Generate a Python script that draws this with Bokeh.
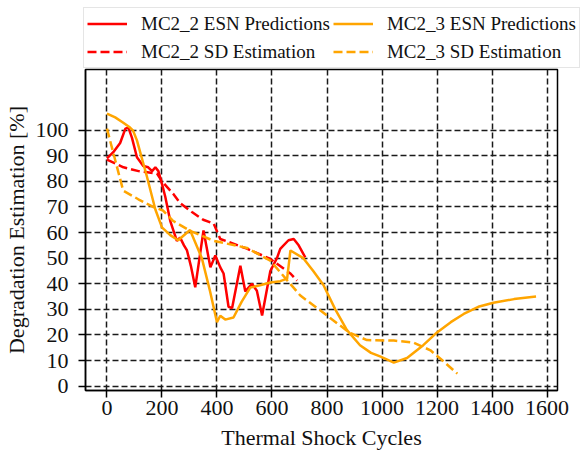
from bokeh.plotting import figure
from bokeh.models import Legend, LegendItem, FixedTicker, Range1d
from bokeh.embed import file_html
from bokeh.resources import INLINE

# MC2_2 ESN Predictions
mc22_esn_x = [0, 23, 48, 67, 78, 91, 109, 132, 150, 164, 176, 187, 200, 212, 230, 242, 254,
              266, 280, 291, 305, 321, 351, 376, 394, 412, 424, 442, 455, 485, 503, 527, 545,
              564, 594, 618, 630, 660, 679, 697, 721]
mc22_esn_y = [89, 91.4, 95, 100.6, 101, 97, 89.4, 86, 85.5, 84, 85.5, 84, 79, 74, 64.6, 60.7, 56.8,
              58, 55, 53, 47, 38.6, 60.8, 46.4, 51, 46.4, 44, 31, 30.5, 47, 37, 40, 37.3,
              27.6, 45, 50, 53.6, 57, 57.5, 55, 50.3]

# MC2_2 SD Estimation
mc22_sd_x = [0, 60, 115, 182, 200, 242, 266, 309, 350, 388, 412, 509, 594, 667, 691]
mc22_sd_y = [88.5, 85.5, 84, 83, 80, 75, 71.5, 68, 65, 63.5, 57.5, 53.7, 49.7, 44, 41.2]

# MC2_3 ESN Predictions
mc23_esn_x = [0, 30, 58, 84, 95, 109, 145, 176, 200, 230, 259, 302, 345, 375, 400, 412, 430,
              460, 490, 521, 560, 594, 630, 655, 667, 714, 750, 787, 830, 872, 920, 960, 995,
              1043, 1091, 1150, 1200, 1250, 1297, 1350, 1405, 1480, 1560]
mc23_esn_y = [106.5, 105, 103, 101, 99.8, 96, 82, 69, 62, 59, 57, 61, 50, 37, 25, 27.5, 26,
              26.8, 33, 38.5, 39.5, 40.5, 41, 42, 53, 50, 45, 39.5, 30, 22, 16, 13, 11.5,
              9.2, 11, 16, 21, 25, 28.2, 31, 32.6, 34, 35]

# MC2_3 SD Estimation
mc23_sd_x = [0, 59, 114, 168, 204, 240, 302, 387, 509, 594, 650, 703, 800, 880, 945, 1043,
             1115, 1176, 1220, 1274]
mc23_sd_y = [100.6, 76.4, 73, 70, 68.6, 64.6, 60.7, 56.8, 54, 49, 42, 35.4, 27.6, 21, 18, 17.8,
             17, 14, 10, 4.9]

series_labels = ["MC2_2 ESN Predictions", "MC2_2 SD Estimation",
                 "MC2_3 ESN Predictions", "MC2_3 SD Estimation"]
x_ticks = [0, 200, 400, 600, 800, 1000, 1200, 1400, 1600]
y_ticks = [0, 10, 20, 30, 40, 50, 60, 70, 80, 90, 100]

FONT = "Liberation Serif"
FS = "22px"
RED, ORANGE = "#ff0000", "#ffa500"
styles = [(RED, "solid"), (RED, "9 4"), (ORANGE, "solid"), (ORANGE, "9 4")]

# ---- main plot ----
p = figure(width=581, height=384, output_backend="svg", toolbar_location=None,
           x_range=Range1d(-78, 1638), y_range=Range1d(-1.7, 123.7),
           min_border_left=85, min_border_right=24, min_border_top=1, min_border_bottom=62)

p.background_fill_color = "white"
p.border_fill_color = "white"
p.outline_line_color = "black"
p.outline_line_width = 1.5

for ax in (p.xaxis[0], p.yaxis[0]):
    ax.axis_line_color = "black"
    ax.axis_line_width = 1.5
    ax.major_tick_in = 0
    ax.major_tick_out = 7
    ax.major_tick_line_width = 1.5
    ax.major_tick_line_color = "black"
    ax.minor_tick_line_color = None
    ax.major_label_text_font = FONT
    ax.major_label_text_font_size = FS
    ax.major_label_text_color = "#111111"
    ax.axis_label_text_font = FONT
    ax.axis_label_text_font_size = FS
    ax.axis_label_text_font_style = "normal"
    ax.axis_label_text_color = "#111111"

p.xaxis[0].ticker = FixedTicker(ticks=x_ticks)
p.yaxis[0].ticker = FixedTicker(ticks=y_ticks)
p.xaxis[0].axis_label = "Thermal Shock Cycles"
p.yaxis[0].axis_label = "Degradation Estimation [%]"
p.xaxis[0].major_label_standoff = 3
p.xaxis[0].axis_label_standoff = 7
p.yaxis[0].major_label_standoff = 10
p.yaxis[0].axis_label_standoff = 4

p.xgrid[0].ticker = FixedTicker(ticks=x_ticks)
p.ygrid[0].ticker = FixedTicker(ticks=y_ticks)
for g in (p.xgrid[0], p.ygrid[0]):
    g.grid_line_color = "#1a1a1a"
    g.grid_line_width = 1.5
    g.grid_line_dash = "6 3"

data = [(mc22_esn_x, mc22_esn_y), (mc22_sd_x, mc22_sd_y),
        (mc23_esn_x, mc23_esn_y), (mc23_sd_x, mc23_sd_y)]
for (xs, ys), (c, d) in zip(data, styles):
    p.line(xs, ys, line_color=c, line_width=2.5, line_dash=d)

# ---- legend strip (separate root, drawn above the plot frame) ----
lf = figure(width=581, height=68, output_backend="svg", toolbar_location=None,
            x_range=Range1d(0, 1), y_range=Range1d(0, 1),
            min_border=0, x_axis_type=None, y_axis_type=None)
lf.outline_line_color = None
lf.grid.visible = False
lf.background_fill_color = "white"
lf.border_fill_color = "white"

nan = float("nan")
items = []
for lab, (c, d) in zip(series_labels, styles):
    r = lf.line([nan], [nan], line_color=c, line_width=2.5, line_dash=d)
    items.append(LegendItem(label=lab, renderers=[r]))

legend = Legend(items=items, ncols=2, orientation="vertical", location=(83, 0))
legend.label_text_font = FONT
legend.label_text_font_size = "19px"
legend.label_text_color = "#111111"
legend.label_height = 25
legend.glyph_height = 25
legend.glyph_width = 40
legend.label_standoff = 14
legend.spacing = 3
legend.padding = 3
legend.margin = 0
legend.border_line_color = "#cccccc"
legend.border_line_width = 1
legend.background_fill_color = "white"
legend.background_fill_alpha = 1.0
lf.add_layout(legend, "center")

open("out.html", "w").write(file_html([lf, p], INLINE))
